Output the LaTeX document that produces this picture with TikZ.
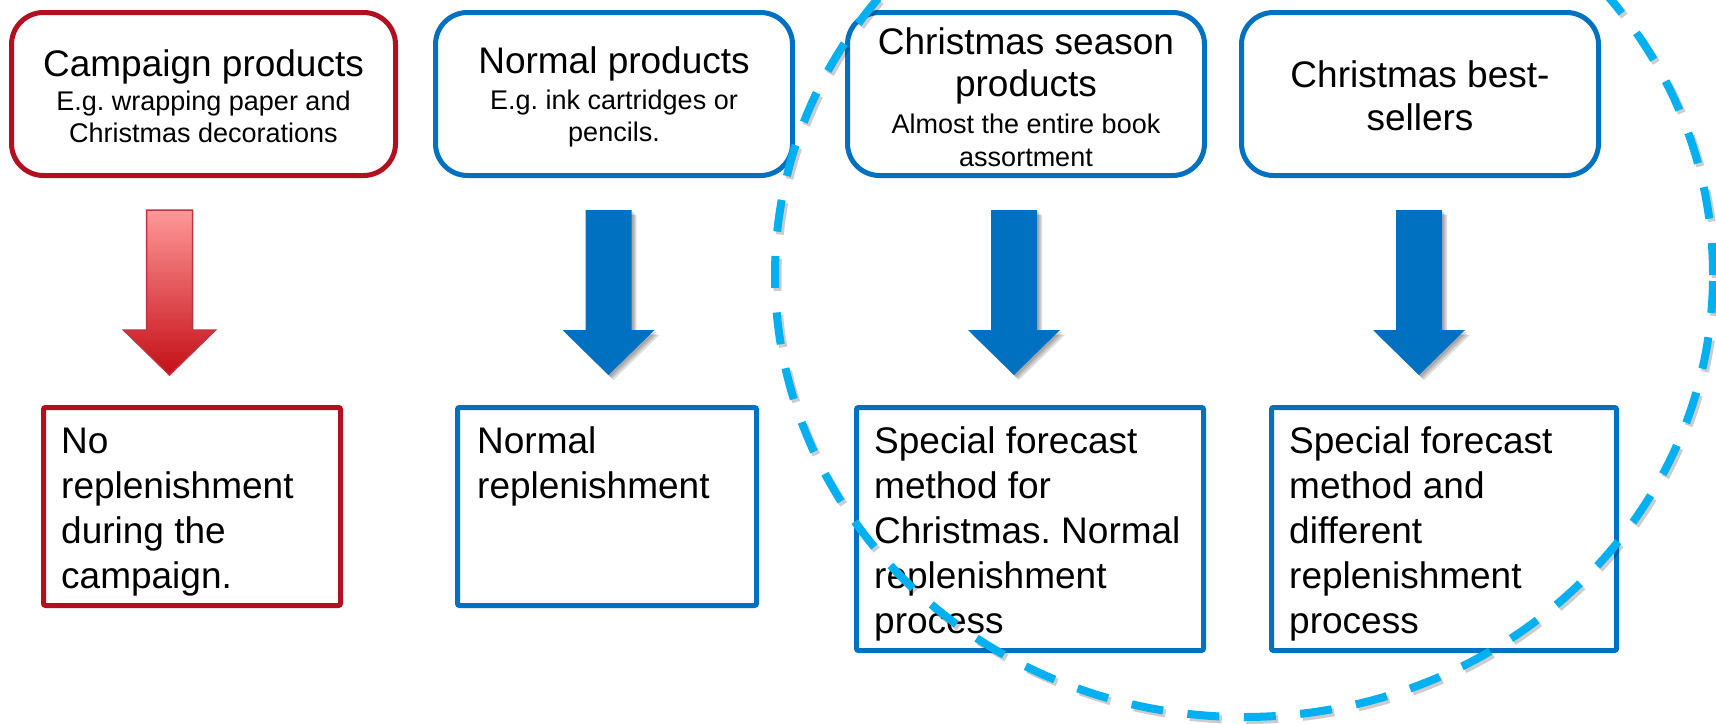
\documentclass[tikz,border=0pt]{standalone}
\usepackage{fontspec}
\setmainfont{Liberation Sans}
\usetikzlibrary{calc}
\definecolor{myred}{RGB}{178,16,32}
\definecolor{myblue}{RGB}{0,112,192}
\definecolor{mylight}{RGB}{0,176,240}
\definecolor{arrtop}{RGB}{255,152,152}
\definecolor{arrbot}{RGB}{196,14,22}
\newcommand{\mytitle}{\fontsize{37}{42}\selectfont}
\newcommand{\mysub}{\fontsize{27}{32}\selectfont}
\newcommand{\mybody}{\fontsize{37}{45}\selectfont}
\tikzset{
  topbox/.style={draw, line width=5pt, rounded corners=32pt, fill=white,
    minimum height=163pt, inner sep=0pt, align=flush center, font=\mytitle\frenchspacing},
  botbox/.style={draw, line width=5pt, rounded corners=2pt, fill=white,
    minimum height=198pt, inner sep=0pt},
  bottext/.style={anchor=base west, inner sep=0pt, align=flush left,
    text width=325pt, font=\mybody\frenchspacing},
  downarr/.pic={\path[pic actions] (-23,0) -- (23,0) -- (23,120) -- (46,120)
    -- (0,165) -- (-46,120) -- (-23,120) -- cycle;},
  arrshadow/.style={fill=black, opacity=0.13, draw=none},
  ringline/.style={line width=8pt, dash pattern=on 32pt off 24.5pt},
}
\begin{document}
\begin{tikzpicture}[x=1pt,y=-1pt]
\useasboundingbox (0,0) rectangle (1716,723);
\clip (0,0) rectangle (1716,723);
\fill[white] (0,0) rectangle (1716,723);

% top boxes (box outlines)
\node[topbox, draw=myred, minimum width=384pt] (t1) at (203.5,94) {};
\node[topbox, draw=myblue, minimum width=357pt] (t2) at (614,94) {};
\node[topbox, draw=myblue, minimum width=357pt] (t3) at (1026,94) {};
\node[topbox, draw=myblue, minimum width=357pt] (t4) at (1420,94) {};

% top box texts
\node[topbox, draw=none, fill=none, minimum height=0pt, text width=372pt] (t1t) at ($(t1.center)+(0,2)$)
  {{\mytitle Campaign products\par}\vspace{2pt}{\mysub E.g. wrapping paper and\\Christmas decorations\par}};
\node[topbox, draw=none, fill=none, minimum height=0pt, text width=345pt] (t2t) at ($(t2.center)+(0,3)$)
  {{\mytitle Normal products\par}\vspace{4pt}{\mysub E.g. ink cartridges or\\pencils.\par}};
\node[topbox, draw=none, fill=none, minimum height=0pt, text width=345pt] (t3t) at ($(t3.center)+(0,3)$)
  {{\mytitle Christmas season\\products\par}\vspace{4pt}{\mysub\fontsize{27}{33}\selectfont Almost the entire book\\assortment\par}};
\node[topbox, draw=none, fill=none, minimum height=0pt, text width=345pt] (t4t) at ($(t4.center)+(0,2)$)
  {{\mytitle\fontsize{37}{43}\selectfont Christmas best-\\sellers\par}};

% bottom boxes
\node[botbox, draw=myred, minimum width=297pt] (b1) at (192,506.5) {};
\node[botbox, draw=myblue, minimum width=299pt] (b2) at (607,506.5) {};
\node[botbox, draw=myblue, minimum width=347pt, minimum height=243pt] (b3) at (1030,529) {};
\node[botbox, draw=myblue, minimum width=345pt, minimum height=243pt] (b4) at (1444,529) {};

\node[bottext] (b1t) at ($(b1.north west)+(20,48)$) {No\\replenishment\\during the\\campaign.};
\node[bottext] (b2t) at ($(b2.north west)+(22,48)$) {Normal\\replenishment};
\node[bottext] (b3t) at ($(b3.north west)+(20,48)$) {Special forecast\\method for\\Christmas. Normal\\replenishment\\process};
\node[bottext] (b4t) at ($(b4.north west)+(20,48)$) {Special forecast\\method and\\different\\replenishment\\process};

% block arrows
\coordinate (a1) at (169.5,210);
\coordinate (a2) at (608.5,210);
\coordinate (a3) at (1014,210);
\coordinate (a4) at (1419,210);

\foreach \c in {a2,a3,a4}{
  \foreach \d in {2,3.5,5}{
    \pic[arrshadow] at ($(\c)+(\d,\d)$) {downarr};
  }
  \pic[fill=myblue] at (\c) {downarr};
}
\pic[top color=arrtop, bottom color=arrbot, draw=myred!85, line width=1.5pt] at (a1) {downarr};

% dashed ring
\draw[ringline, black, opacity=0.2] (1246.5,278) ellipse [x radius=469pt, y radius=442pt];
\draw[ringline, mylight] (1244,275) ellipse [x radius=469pt, y radius=442pt];
\end{tikzpicture}
\end{document}
